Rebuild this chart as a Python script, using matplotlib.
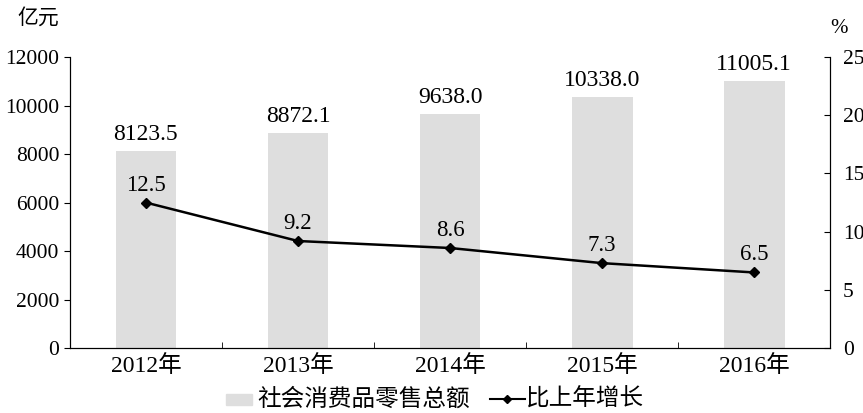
import matplotlib
matplotlib.use("Agg")
import matplotlib.pyplot as plt
import numpy as np

plt.rcParams['font.family'] = ['Liberation Serif', 'Noto Sans CJK SC']

years = ["2012年", "2013年", "2014年", "2015年", "2016年"]
sales = [8123.5, 8872.1, 9638.0, 10338.0, 11005.1]
growth = [12.5, 9.2, 8.6, 7.3, 6.5]

fig = plt.figure(figsize=(8.63, 4.13), dpi=100)
ax = fig.add_axes([0.081, 0.157, 0.881, 0.705])
ax2 = ax.twinx()

x = np.arange(len(years))
ax.bar(x, sales, width=0.4, color="#dedede", edgecolor="none", zorder=1)
for xi, v in zip(x, sales):
    ax.text(xi, v + 250, f"{v:.1f}", ha="center", va="bottom", fontsize=17)

ax.set_xlim(-0.5, len(years) - 0.5)
ax.set_ylim(0, 12000)
ax.set_yticks(np.arange(0, 12001, 2000))
ax.set_xticks(x + 0.5, minor=True)
ax.set_xticks(x)
ax.set_xticklabels(years, fontsize=17)
ax.tick_params(axis="x", which="major", length=0, pad=5)
ax.tick_params(axis="x", which="minor", length=4, direction="in")
ax.tick_params(axis="y", labelsize=15.5, length=4, direction="out")
ax.spines["top"].set_visible(False)

ax2.plot(x, growth, color="black", lw=1.8, marker="D", ms=5, zorder=3)
for xi, v in zip(x, growth):
    ax2.text(xi, v + 0.6, f"{v:.1f}", ha="center", va="bottom", fontsize=16.5)
ax2.set_ylim(0, 25)
ax2.set_yticks(np.arange(0, 26, 5))
ax2.tick_params(axis="y", labelsize=15.5, length=4, direction="in", pad=9)
ax2.spines["top"].set_visible(False)

fig.text(0.02, 0.955, "亿元", fontsize=15, va="center", ha="left")
fig.text(0.962, 0.93, "%", fontsize=15, va="center", ha="left")

# legend: small patch, line with diamond, labels
fig.patches.append(plt.Rectangle((0.262, 0.02), 0.03, 0.025, transform=fig.transFigure,
                                 color="#dedede", figure=fig))
fig.text(0.298, 0.033, "社会消费品零售总额", fontsize=17, va="center")
fig.lines.append(plt.Line2D([0.568, 0.608], [0.033, 0.033], transform=fig.transFigure,
                            color="black", lw=1.5, figure=fig))
fig.lines.append(plt.Line2D([0.588], [0.033], transform=fig.transFigure,
                            color="black", marker="D", ms=4, figure=fig))
fig.text(0.61, 0.033, "比上年增长", fontsize=17, va="center")

fig.savefig("out.png", dpi=100)
